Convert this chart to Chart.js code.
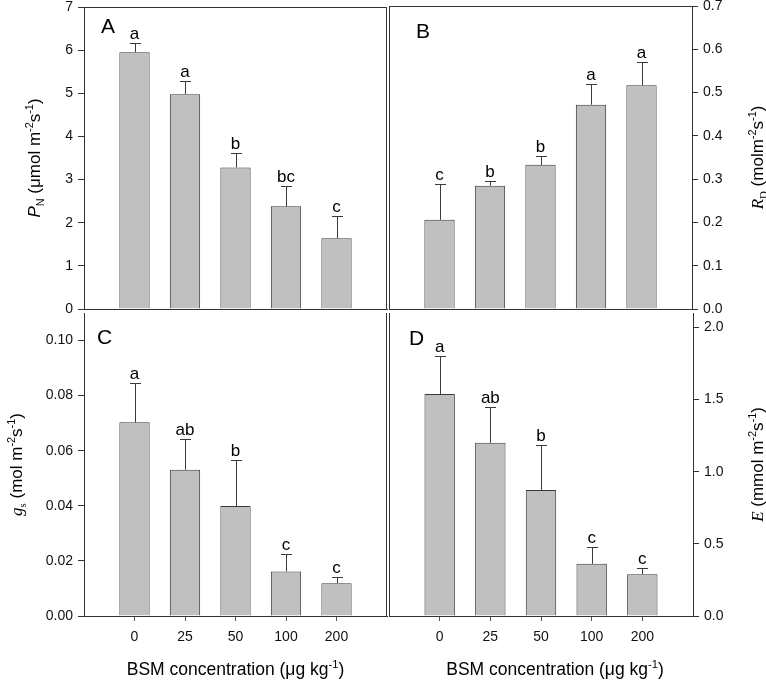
<!DOCTYPE html>
<html><head><meta charset="utf-8">
<script src="https://cdn.jsdelivr.net/npm/chart.js@4"></script>
<style>
html,body{margin:0;padding:0;background:#fff;}
#wrap{position:relative;width:766px;height:681px;background:#fff;}
canvas{position:absolute;left:0;top:0;}
</style>
</head><body>
<div id="wrap">
<canvas id="cA" width="766" height="681"></canvas>
<canvas id="cB" width="766" height="681"></canvas>
<canvas id="cC" width="766" height="681"></canvas>
<canvas id="cD" width="766" height="681"></canvas>
</div>
<script>
// ---- data ----
const categories = ['0', '25', '50', '100', '200'];

const pnMean = [5.95, 4.98, 3.28, 2.38, 1.64];
const pnErr = [0.22, 0.30, 0.34, 0.48, 0.51];
const pnLetters = ['a', 'a', 'b', 'bc', 'c'];

const rdMean = [0.206, 0.285, 0.333, 0.472, 0.517];
const rdErr = [0.082, 0.010, 0.021, 0.048, 0.054];
const rdLetters = ['c', 'b', 'b', 'a', 'a'];

const gsMean = [0.0703, 0.0531, 0.0399, 0.0162, 0.0119];
const gsErr = [0.0142, 0.0110, 0.0167, 0.0062, 0.0022];
const gsLetters = ['a', 'ab', 'b', 'c', 'c'];

const eMean = [1.539, 1.200, 0.874, 0.362, 0.290];
const eErr = [0.264, 0.248, 0.308, 0.118, 0.041];
const eLetters = ['a', 'ab', 'b', 'c', 'c'];

const yTicksA = [0, 1, 2, 3, 4, 5, 6, 7];
const yTicksB = [0, 0.1, 0.2, 0.3, 0.4, 0.5, 0.6, 0.7];
const yTicksC = [0, 0.02, 0.04, 0.06, 0.08, 0.10];
const yTicksD = [0, 0.5, 1.0, 1.5, 2.0];

// ---- styling ----
const SANS = "'Liberation Sans', Arial, sans-serif";
const SERIF = "'Liberation Serif', 'Times New Roman', serif";
const AXIS = '#333333';
Chart.defaults.font.family = SANS;
Chart.defaults.color = '#111';

function drawRich(ctx, segs, size, x, y, rot) {
  ctx.save();
  ctx.translate(x, y);
  ctx.rotate(rot);
  const parts = segs.map(s => {
    const small = s.sub || s.sup;
    const fs = small ? size * 0.64 : size;
    const font = (s.italic ? 'italic ' : '') + fs + 'px ' + (s.serif ? SERIF : SANS);
    ctx.font = font;
    return { t: s.t, font, w: ctx.measureText(s.t).width, dy: s.sub ? size * 0.22 : (s.sup ? -size * 0.42 : 0) };
  });
  const total = parts.reduce((a, p) => a + p.w, 0);
  let cx = -total / 2;
  ctx.fillStyle = '#000';
  ctx.textBaseline = 'alphabetic';
  ctx.textAlign = 'left';
  for (const p of parts) { ctx.font = p.font; ctx.fillText(p.t, cx, p.dy); cx += p.w; }
  ctx.restore();
}

const xTitleSegs = [{ t: 'BSM concentration (\u03bcg kg' }, { t: '-1', sup: true }, { t: ')' }];

function makeDecor(p) {
  return {
    id: 'decor' + p.id,
    afterDatasetsDraw(chart) {
      const ctx = chart.ctx;
      const ca = chart.chartArea;
      const ys = chart.scales.y;
      const meta = chart.getDatasetMeta(0);
      ctx.save();
      ctx.strokeStyle = '#3a3a3a';
      ctx.lineWidth = 1;
      ctx.fillStyle = '#000';
      ctx.font = '17px ' + SANS;
      ctx.textAlign = 'center';
      ctx.textBaseline = 'alphabetic';
      meta.data.forEach((el, i) => {
        const x = Math.round(el.x) + 0.5;
        const yTop = Math.round(ys.getPixelForValue(p.mean[i] + p.err[i])) + 0.5;
        const yBar = el.y;
        ctx.beginPath();
        ctx.moveTo(x, yBar); ctx.lineTo(x, yTop);
        ctx.moveTo(x - 5.5, yTop); ctx.lineTo(x + 5.5, yTop);
        ctx.stroke();
        ctx.fillText(p.letters[i], el.x, yTop - 5);
      });
      // frame lines
      ctx.strokeStyle = AXIS;
      ctx.beginPath();
      const L = Math.round(ca.left) + 0.5, R = Math.round(ca.right) - 0.5, T = Math.round(ca.top) + 0.5, B = Math.round(ca.bottom);
      if (p.frame.top) { ctx.moveTo(L, T); ctx.lineTo(R + 0.5, T); }
      if (p.frame.left) { ctx.moveTo(L, T - 0.5); ctx.lineTo(L, B); }
      if (p.frame.right) { ctx.moveTo(R, T - 0.5); ctx.lineTo(R, B); }
      ctx.stroke();
      // panel letter
      ctx.font = '21px ' + SANS;
      ctx.textAlign = 'left';
      ctx.fillText(p.label, ca.left + p.labelDx, ca.top + p.labelDy);
      ctx.restore();
      // y title
      const yx = p.yTitleSide === 'left' ? ca.left - p.yTitleDx : ca.right + p.yTitleDx;
      drawRich(ctx, p.yTitle, 17, yx, (ca.top + ca.bottom) / 2, -Math.PI / 2);
      if (p.xTitle) {
        drawRich(ctx, xTitleSegs, 17.5, (ca.left + ca.right) / 2 + p.xTitleShift, ca.bottom + 59, 0);
      }
    }
  };
}

function build(p) {
  const yRight = p.yTitleSide === 'right';
  const yWidth = 60;
  const xHeight = p.bottom ? 30 : 0;
  const W = 766, H = 681;
  const padding = {
    top: p.area.top,
    bottom: H - p.area.bottom - xHeight,
    left: yRight ? p.area.left : p.area.left - yWidth,
    right: yRight ? W - p.area.right - yWidth : W - p.area.right
  };
  return new Chart(document.getElementById(p.id), {
    type: 'bar',
    data: {
      datasets: [{
        data: p.mean.map((v, i) => ({ x: i + 1, y: v })),
        backgroundColor: '#c0c0c0',
        borderColor: '#3a3a3a',
        borderWidth: 1,
        barPercentage: 0.6,
        categoryPercentage: 1
      }]
    },
    options: {
      responsive: false,
      animation: false,
      devicePixelRatio: 1,
      events: [],
      layout: { padding },
      plugins: { legend: { display: false }, tooltip: { enabled: false } },
      scales: {
        x: {
          type: 'linear',
          position: 'bottom',
          min: 0, max: categories.length + 1,
          offset: false,
          grid: { display: p.bottom, offset: false, drawOnChartArea: false, drawTicks: p.bottom, tickLength: 5, color: '#555' },
          border: { display: true, color: AXIS, width: 1 },
          ticks: {
            display: p.bottom,
            padding: 8,
            maxRotation: 0,
            autoSkip: false,
            font: { size: 14, family: SANS },
            color: '#111',
            callback: v => categories[v - 1]
          },
          afterBuildTicks: s => { s.ticks = categories.map((c, i) => ({ value: i + 1 })); },
          afterFit: s => { s.height = xHeight; s.paddingLeft = 0; s.paddingRight = 0; s.paddingTop = 0; s.paddingBottom = 0; }
        },
        y: {
          type: 'linear',
          position: yRight ? 'right' : 'left',
          min: 0, max: p.yMax,
          grid: { display: true, drawOnChartArea: false, drawTicks: true, tickLength: 6, color: AXIS },
          border: { display: true, color: AXIS, width: 1 },
          ticks: {
            padding: 5,
            font: { size: 14, family: SANS },
            color: '#111',
            callback: v => Number(v).toFixed(p.decimals)
          },
          afterBuildTicks: s => { s.ticks = p.yTicks.map(v => ({ value: v })); },
          afterFit: s => { s.width = yWidth; s.paddingLeft = 0; s.paddingRight = 0; s.paddingTop = 0; s.paddingBottom = 0; }
        }
      }
    },
    plugins: [makeDecor(p)]
  });
}

build({
  id: 'cA', mean: pnMean, err: pnErr, letters: pnLetters, yTicks: yTicksA, yMax: 7, decimals: 0,
  area: { left: 84, right: 387, top: 7, bottom: 309 }, bottom: false,
  frame: { top: true, right: true }, label: 'A', labelDx: 17, labelDy: 26,
  yTitleSide: 'left', yTitleDx: 44,
  yTitle: [{ t: 'P', italic: true }, { t: 'N', sub: true }, { t: ' (\u03bcmol m' }, { t: '-2', sup: true }, { t: 's' }, { t: '-1', sup: true }, { t: ')' }]
});
build({
  id: 'cB', mean: rdMean, err: rdErr, letters: rdLetters, yTicks: yTicksB, yMax: 0.7, decimals: 1,
  area: { left: 389, right: 692, top: 6, bottom: 309 }, bottom: false,
  frame: { top: true, left: true }, label: 'B', labelDx: 27, labelDy: 32,
  yTitleSide: 'right', yTitleDx: 71,
  yTitle: [{ t: 'R', italic: true, serif: true }, { t: 'D', sub: true, serif: true }, { t: ' (molm' }, { t: '-2', sup: true }, { t: 's' }, { t: '-1', sup: true }, { t: ')' }]
});
build({
  id: 'cC', mean: gsMean, err: gsErr, letters: gsLetters, yTicks: yTicksC, yMax: 0.11, decimals: 2,
  area: { left: 84, right: 387, top: 313, bottom: 616 }, bottom: true,
  frame: { right: true }, label: 'C', labelDx: 13, labelDy: 31,
  yTitleSide: 'left', yTitleDx: 62, xTitle: true, xTitleShift: 0,
  yTitle: [{ t: 'g', italic: true, serif: true }, { t: 's', sub: true, serif: true }, { t: ' (mol m' }, { t: '-2', sup: true }, { t: 's' }, { t: '-1', sup: true }, { t: ')' }]
});
build({
  id: 'cD', mean: eMean, err: eErr, letters: eLetters, yTicks: yTicksD, yMax: 2.1, decimals: 1,
  area: { left: 389, right: 693, top: 313, bottom: 616 }, bottom: true,
  frame: { left: true }, label: 'D', labelDx: 20, labelDy: 32,
  yTitleSide: 'right', yTitleDx: 70, xTitle: true, xTitleShift: 14,
  yTitle: [{ t: 'E', italic: true, serif: true }, { t: ' (mmol m' }, { t: '-2', sup: true }, { t: 's' }, { t: '-1', sup: true }, { t: ')' }]
});
</script>
</body></html>
